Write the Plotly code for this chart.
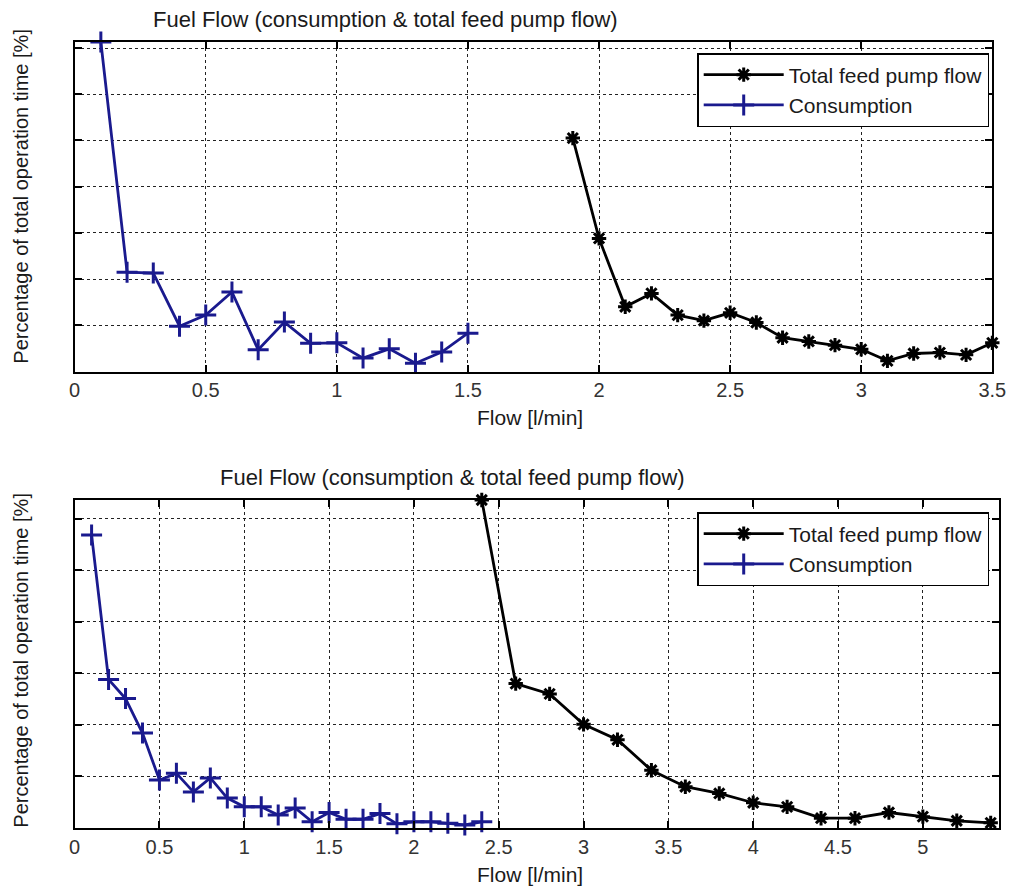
import plotly.graph_objects as go

# ---------------- data ----------------
top_cons_x = [0.1, 0.2, 0.3, 0.4, 0.5, 0.6, 0.7, 0.8, 0.9, 1.0, 1.1, 1.2, 1.3, 1.4, 1.5]
top_cons_y = [7.13, 2.15, 2.13, 0.98, 1.22, 1.72, 0.47, 1.07, 0.61, 0.62, 0.29, 0.49, 0.18, 0.42, 0.83]

top_feed_x = [1.9, 2.0, 2.1, 2.2, 2.3, 2.4, 2.5, 2.6, 2.7, 2.8, 2.9, 3.0, 3.1, 3.2, 3.3, 3.4, 3.5]
top_feed_y = [5.05, 2.88, 1.40, 1.69, 1.22, 1.10, 1.27, 1.06, 0.73, 0.65, 0.57, 0.48, 0.23, 0.39, 0.41, 0.36, 0.62]

bot_cons_x = [0.1, 0.2, 0.3, 0.4, 0.5, 0.6, 0.7, 0.8, 0.9, 1.0, 1.1, 1.2, 1.3, 1.4, 1.5,
              1.6, 1.7, 1.8, 1.9, 2.0, 2.1, 2.2, 2.3, 2.4]
bot_cons_y = [5.68, 2.88, 2.51, 1.84, 0.93, 1.06, 0.70, 0.97, 0.58, 0.41, 0.41, 0.25, 0.39, 0.12, 0.30,
              0.17, 0.17, 0.28, 0.08, 0.12, 0.12, 0.09, 0.06, 0.12]

bot_feed_x = [2.4, 2.6, 2.8, 3.0, 3.2, 3.4, 3.6, 3.8, 4.0, 4.2, 4.4, 4.6, 4.8, 5.0, 5.2, 5.4]
bot_feed_y = [6.36, 2.80, 2.60, 2.01, 1.71, 1.12, 0.80, 0.67, 0.49, 0.41, 0.19, 0.19, 0.30, 0.22, 0.14, 0.10]

title_text = "Fuel Flow (consumption & total feed pump flow)"
xlabel = "Flow [l/min]"
ylabel = "Percentage of total operation time [%]"
name_feed = "Total feed pump flow"
name_cons = "Consumption"

top_xticks = [0, 0.5, 1, 1.5, 2, 2.5, 3, 3.5]
bot_xticks = [0, 0.5, 1, 1.5, 2, 2.5, 3, 3.5, 4, 4.5, 5]

# ---------------- styling ----------------
W, H = 1022, 888
FONT = "Liberation Sans, Arial, sans-serif"
BLUE = "#1a1a8e"
BLACK = "#000000"
TXT = "#1a1a1a"


def px_x(p):
    return p / W


def px_y(p):
    return 1 - p / H


fig = go.Figure()

feed_marker = dict(symbol="asterisk", size=12, color=BLACK, line=dict(color=BLACK, width=3))
cons_marker = dict(symbol="cross-thin", size=15, color=BLUE, line=dict(color=BLUE, width=3))
LW = 2.8

fig.add_trace(go.Scatter(x=top_feed_x, y=top_feed_y, mode="lines+markers", name=name_feed,
                         line=dict(color=BLACK, width=LW), marker=feed_marker,
                         xaxis="x", yaxis="y", legend="legend", cliponaxis=False))
fig.add_trace(go.Scatter(x=top_cons_x, y=top_cons_y, mode="lines+markers", name=name_cons,
                         line=dict(color=BLUE, width=LW), marker=cons_marker,
                         xaxis="x", yaxis="y", legend="legend", cliponaxis=False))
fig.add_trace(go.Scatter(x=bot_feed_x, y=bot_feed_y, mode="lines+markers", name=name_feed,
                         line=dict(color=BLACK, width=LW), marker=feed_marker,
                         xaxis="x2", yaxis="y2", legend="legend2", cliponaxis=False))
fig.add_trace(go.Scatter(x=bot_cons_x, y=bot_cons_y, mode="lines+markers", name=name_cons,
                         line=dict(color=BLUE, width=LW), marker=cons_marker,
                         xaxis="x2", yaxis="y2", legend="legend2", cliponaxis=False))

axis_common = dict(showline=True, linecolor=BLACK, linewidth=1.8, mirror="ticks",
                   ticks="inside", ticklen=7, tickcolor=BLACK, tickwidth=1.5,
                   showgrid=True, gridcolor="#222222", griddash="dot", gridwidth=1.2,
                   zeroline=False, tickfont=dict(family=FONT, size=20, color="#333333"))

top_ymax = max(top_cons_y)
bot_ymax = max(bot_feed_y)

legend_common = dict(xanchor="left", yanchor="top",
                     bgcolor="white", bordercolor=BLACK, borderwidth=1.5,
                     font=dict(family=FONT, size=21, color=TXT),
                     itemwidth=80, tracegroupgap=0)

fig.update_layout(
    width=W, height=H,
    margin=dict(l=0, r=0, t=0, b=0),
    paper_bgcolor="white", plot_bgcolor="white",
    font=dict(family=FONT, color=TXT),
    xaxis=dict(domain=[px_x(70), px_x(1006)], anchor="y", range=[0, 3.5],
               tickvals=top_xticks, ticktext=[f"{v:g}" for v in top_xticks], **axis_common),
    yaxis=dict(domain=[px_y(371.5), px_y(42)], anchor="x", range=[0, top_ymax],
               dtick=1, tick0=0, showticklabels=False, **axis_common),
    xaxis2=dict(domain=[px_x(70), px_x(1013)], anchor="y2", range=[0, 5.45],
                tickvals=bot_xticks, ticktext=[f"{v:g}" for v in bot_xticks], **axis_common),
    yaxis2=dict(domain=[px_y(828), px_y(500)], anchor="x2", range=[0, bot_ymax],
                dtick=1, tick0=0, showticklabels=False, **axis_common),
    legend=dict(x=px_x(705), y=px_y(53), **legend_common),
    legend2=dict(x=px_x(705), y=px_y(512), **legend_common),
    showlegend=True,
)

annots = [
    dict(text=title_text, x=px_x(387), y=px_y(20), size=22),
    dict(text=title_text, x=px_x(455), y=px_y(477), size=22),
    dict(text=xlabel, x=px_x(534), y=px_y(418), size=21),
    dict(text=xlabel, x=px_x(534), y=px_y(874), size=21),
]
for a in annots:
    fig.add_annotation(text=a["text"], x=a["x"], y=a["y"], xref="paper", yref="paper",
                       xanchor="center", yanchor="middle", showarrow=False,
                       font=dict(family=FONT, size=a["size"], color=TXT))
for yc in [196, 660]:
    fig.add_annotation(text=ylabel, x=px_x(15), y=px_y(yc), xref="paper", yref="paper",
                       xanchor="center", yanchor="middle", showarrow=False, textangle=-90,
                       font=dict(family=FONT, size=20, color=TXT))

fig.write_html("out.html")
